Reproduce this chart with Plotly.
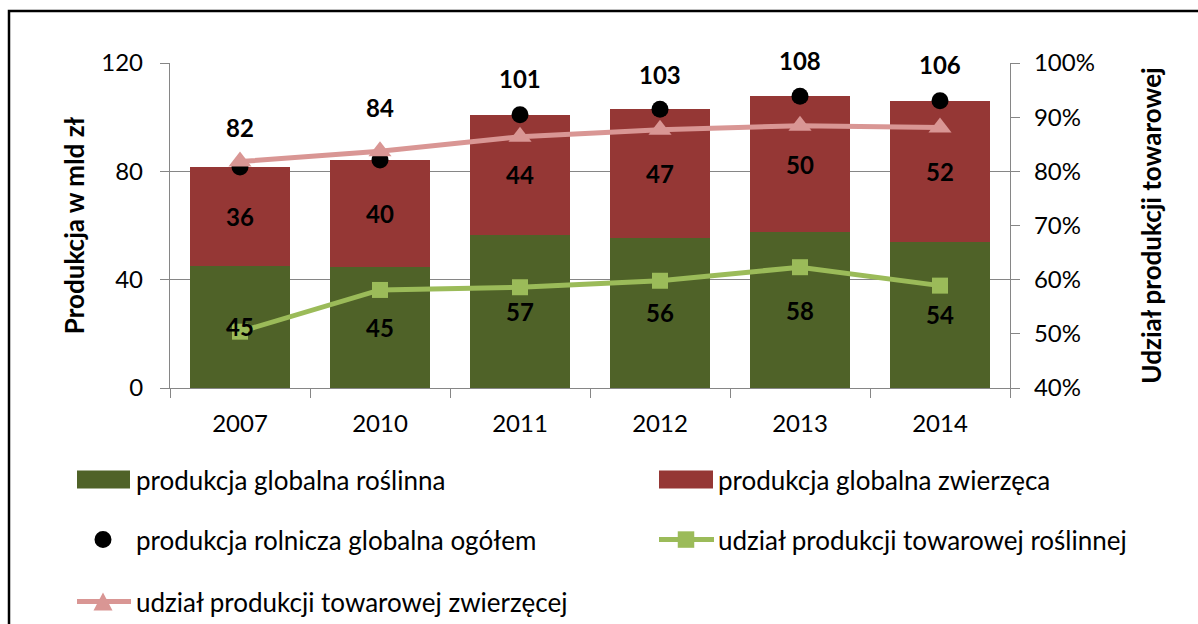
import plotly.graph_objects as go

# ---------------- data ----------------
years = ["2007", "2010", "2011", "2012", "2013", "2014"]
plant_prod = [45.2, 44.6, 56.6, 55.5, 57.6, 54.0]       # produkcja globalna roślinna (mld zł)
animal_prod = [36.4, 39.6, 44.3, 47.4, 50.2, 52.1]      # produkcja globalna zwierzęca (mld zł)
total_prod = [81.6, 84.2, 100.9, 102.9, 107.7, 106.1]   # produkcja rolnicza globalna ogółem
plant_share = [0.504, 0.581, 0.586, 0.598, 0.623, 0.589]  # udział produkcji towarowej roślinnej
animal_share = [0.818, 0.837, 0.864, 0.877, 0.884, 0.881]  # udział produkcji towarowej zwierzęcej

names = [
    "produkcja globalna roślinna",
    "produkcja globalna zwierzęca",
    "produkcja rolnicza globalna ogółem",
    "udział produkcji towarowej roślinnej",
    "udział produkcji towarowej zwierzęcej",
]

# ---------------- style ----------------
W, H = 1198, 624
L, R, T, B = 170, 1010, 63, 388.3
FONT = "Lato"
FS = 24      # numbers
FT = 26      # words
C_GREEN_BAR = "#4F6228"
C_RED_BAR = "#953735"
C_GREEN_LINE = "#9BBB59"
C_PINK_LINE = "#D99694"
C_GRID = "#868686"


def px(x):
    return (x - L) / (R - L)


def py(y):
    return (B - y) / (B - T)


fig = go.Figure()

label_font = dict(family=FONT, size=FS, color="black", weight="bold")

fig.add_trace(go.Bar(
    x=years, y=plant_prod, name=names[0], marker=dict(color=C_GREEN_BAR, line=dict(width=0)),
    showlegend=False,
))
fig.add_trace(go.Bar(
    x=years, y=animal_prod, name=names[1], marker=dict(color=C_RED_BAR, line=dict(width=0)),
    showlegend=False,
))
fig.add_trace(go.Scatter(
    x=years, y=total_prod, name=names[2], mode="markers",
    marker=dict(color="black", size=17), showlegend=False,
))
fig.add_trace(go.Scatter(
    x=years, y=plant_share, name=names[3], mode="lines+markers", yaxis="y2",
    line=dict(color=C_GREEN_LINE, width=5),
    marker=dict(symbol="square", size=16, color=C_GREEN_LINE), showlegend=False,
))
fig.add_trace(go.Scatter(
    x=years, y=animal_share, name=names[4], mode="lines+markers", yaxis="y2",
    line=dict(color=C_PINK_LINE, width=5),
    marker=dict(symbol="triangle-up", size=20, color=C_PINK_LINE), showlegend=False,
))

annotations = []
# segment labels (centered in each stacked segment), drawn above the lines
for i, (g, r) in enumerate(zip(plant_prod, animal_prod)):
    annotations.append(dict(x=i, y=g / 2, xref="x", yref="y", text=f"{g:.0f}",
                            showarrow=False, font=label_font))
    annotations.append(dict(x=i, y=g + r / 2, xref="x", yref="y", text=f"{r:.0f}",
                            showarrow=False, font=label_font))

# total labels above the dots
label_shift = [40, 52, 36, 35, 36, 36]
for i, (v, s) in enumerate(zip(total_prod, label_shift)):
    annotations.append(dict(
        x=i, y=v, xref="x", yref="y", text=f"{v:.0f}", showarrow=False,
        yshift=s, font=label_font,
    ))

# manual legend
shapes = []
leg_font = dict(family=FONT, size=FT, color="black")
rows = [480, 540, 602]
col_txt = [134, 716]


def rect(x0, x1, y0, y1, color):
    return dict(type="rect", xref="paper", yref="paper", x0=px(x0), x1=px(x1),
                y0=py(y1), y1=py(y0), fillcolor=color, line=dict(width=0), layer="above")


def hline(x0, x1, y, color):
    return dict(type="line", xref="paper", yref="paper", x0=px(x0), x1=px(x1),
                y0=py(y), y1=py(y), line=dict(color=color, width=5), layer="above")


shapes.append(rect(77, 130, 471, 489, C_GREEN_BAR))
shapes.append(rect(659, 713, 471, 489, C_RED_BAR))
shapes.append(dict(type="circle", xref="paper", yref="paper", x0=px(94.5), x1=px(111.5),
                   y0=py(548.5), y1=py(531.5), fillcolor="black", line=dict(width=0), layer="above"))
shapes.append(hline(659, 714, 540, C_GREEN_LINE))
shapes.append(rect(677.75, 694.25, 531.75, 548.25, C_GREEN_LINE))
shapes.append(hline(77, 131, 602, C_PINK_LINE))
tri = "M {a},{b} L {c},{b} L {d},{e} Z".format(
    a=px(93.5), c=px(112.5), b=py(611), d=px(103), e=py(593))
shapes.append(dict(type="path", xref="paper", yref="paper", path=tri,
                   fillcolor=C_PINK_LINE, line=dict(width=0), layer="above"))

leg_pos = [(col_txt[0], rows[0]), (col_txt[1], rows[0]), (col_txt[0], rows[1]),
           (col_txt[1], rows[1]), (col_txt[0], rows[2])]
for nm, (tx, ty) in zip(names, leg_pos):
    annotations.append(dict(
        x=px(tx), y=py(ty), xref="paper", yref="paper", text=nm, showarrow=False,
        xanchor="left", yanchor="middle", font=leg_font,
    ))

# outer frame
shapes.append(dict(type="rect", xref="paper", yref="paper", x0=px(9), x1=px(1230),
                   y0=py(660), y1=py(11), line=dict(color="black", width=2.5),
                   fillcolor="rgba(0,0,0,0)", layer="below"))

axis_font = dict(family=FONT, size=FS, color="black")
title_font = dict(family=FONT, size=FT, color="black", weight="bold")

fig.update_layout(
    width=W, height=H,
    margin=dict(l=L, r=W - R, t=T, b=H - B, pad=0),
    paper_bgcolor="white", plot_bgcolor="white",
    barmode="stack", bargap=0.28,
    showlegend=False,
    font=dict(family=FONT, size=FS, color="black"),
    xaxis=dict(type="category", showline=True, linecolor=C_GRID, linewidth=1.3,
               ticks="outside", tickson="boundaries", ticklen=9, tickcolor=C_GRID,
               tickwidth=1.3, showgrid=False, tickfont=axis_font, range=[-0.5, 5.5],
               ticklabelstandoff=14),
    yaxis=dict(range=[0, 120], dtick=40, showgrid=True, gridcolor=C_GRID, gridwidth=1.3,
               zeroline=False, showline=True, linecolor=C_GRID, linewidth=1.3,
               ticks="outside", ticklen=9, tickcolor=C_GRID, tickwidth=1.3,
               tickfont=axis_font, ticklabelstandoff=12,
               title=dict(text="Produkcja w mld zł", font=title_font, standoff=9)),
    yaxis2=dict(range=[0.4, 1.0], dtick=0.1, tickformat=".0%", overlaying="y", side="right",
                showgrid=False, zeroline=False, showline=True, linecolor=C_GRID, linewidth=1.3,
                ticks="outside", ticklen=9, tickcolor=C_GRID, tickwidth=1.3,
                tickfont=axis_font, ticklabelstandoff=9,
                title=dict(text="Udział produkcji towarowej", font=title_font, standoff=48)),
    annotations=annotations,
    shapes=shapes,
)

fig.write_html("out.html", config={"displayModeBar": False},
               post_script="document.body.style.margin='0';")
